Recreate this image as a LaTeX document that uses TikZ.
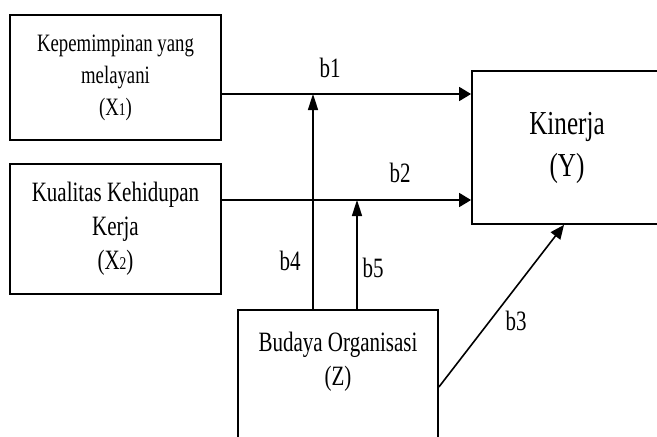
\documentclass[tikz,border=0pt]{standalone}
\usepackage{fontspec}
\setmainfont[FakeStretch=0.75]{Liberation Serif}
\usetikzlibrary{arrows.meta}
\tikzset{
  box/.style={draw, line width=1.8pt, inner sep=0pt, align=center},
  arrh/.style={line width=1.6pt, -{Triangle[length=12pt,width=14pt]}},
  arrv/.style={line width=1.6pt, -{Triangle[length=16pt,width=10pt]}},
  arrd/.style={line width=1.6pt, -{Triangle[length=14pt,width=12pt]}},
  lbl/.style={font=\fontsize{28}{34}\selectfont, inner sep=0pt},
  txt/.style={font=\fontsize{28}{34}\selectfont, align=center, inner sep=0pt}
}
\newcommand{\subd}[1]{{\fontsize{18}{18}\selectfont #1}}
\begin{document}
\begin{tikzpicture}[x=1pt,y=1pt]
\clip (0,0) rectangle (657,-437);
\fill[white] (0,0) rectangle (657,-437);
% boxes
\node[box, minimum width=211pt, minimum height=125pt,
      font=\fontsize{25}{32}\selectfont] (X1) at (115.5,-77.5)
  {Kepemimpinan yang\\melayani\\(X\subd{1})};
\node[box, minimum width=211pt, minimum height=130pt,
      font=\fontsize{28}{34}\selectfont] (X2) at (115.5,-229)
  {Kualitas Kehidupan\\Kerja\\(X\subd{2})};
\node[box, minimum width=190pt, minimum height=153pt,
      font=\fontsize{33.5}{42}\selectfont] (Y) at (567,-147.5)
  {Kinerja\\(Y)};
\node[box, minimum width=200pt, minimum height=180pt, anchor=north] (Z) at (338,-309) {};
\node[txt] (Zt) at (338,-362) {Budaya Organisasi\\(Z)};
% helper coordinates
\coordinate (r1) at (0,-94);
\coordinate (r2) at (0,-200);
\coordinate (v4) at (313,0);
\coordinate (v5) at (357,0);
\coordinate (s3) at (0,-387);
\coordinate (e3) at (564,0);
% connectors
\draw[arrh] (X1.east |- r1) -- (Y.west |- r1);
\draw[arrh] (X2.east |- r2) -- (Y.west |- r2);
\draw[arrv] (Z.north -| v4) -- (v4 |- r1);
\draw[arrv] (Z.north -| v5) -- (v5 |- r2);
\draw[arrd] (Z.east |- s3) -- (Y.south -| e3);
% labels
\node[lbl] (b1) at (330,-68) {b1};
\node[lbl] (b2) at (400,-173) {b2};
\node[lbl] (b4) at (290,-261) {b4};
\node[lbl] (b5) at (373,-268) {b5};
\node[lbl] (b3) at (516,-321) {b3};
\end{tikzpicture}
\end{document}
